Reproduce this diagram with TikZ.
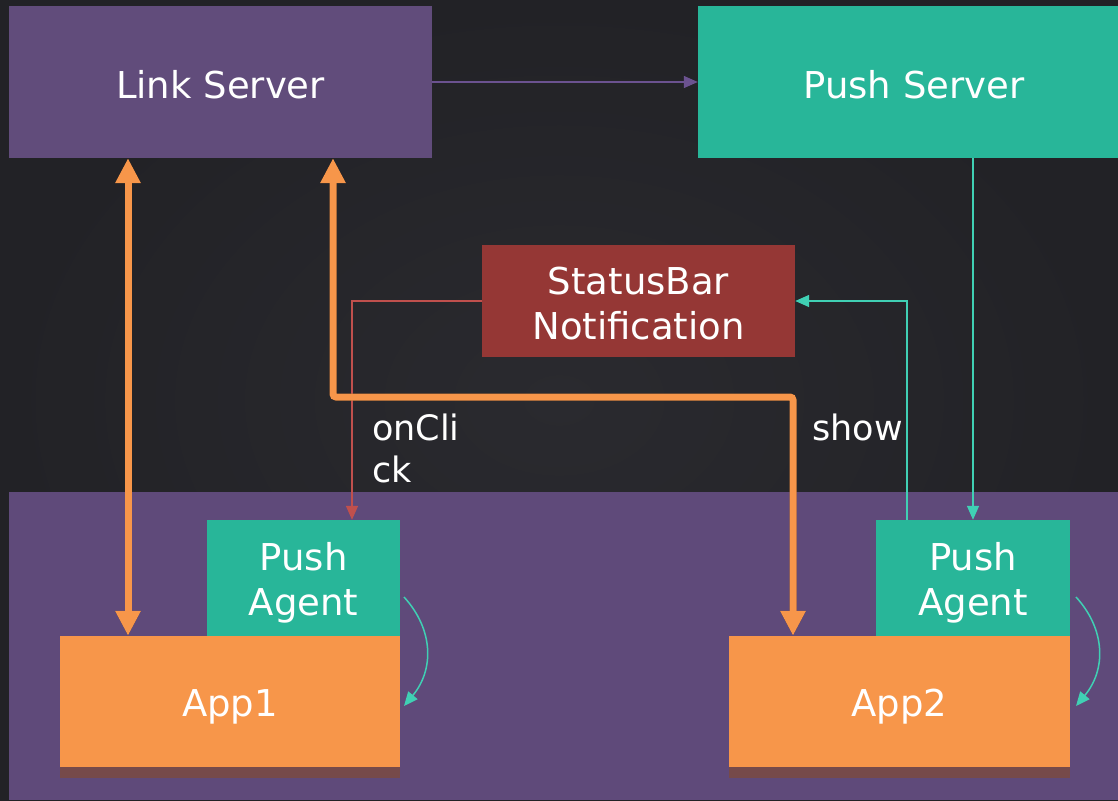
\documentclass[tikz,border=0pt]{standalone}
\usepackage{fontspec}
\setmainfont{DejaVu Sans}
\usetikzlibrary{arrows.meta}
\definecolor{bgc}{HTML}{222226}
\definecolor{bgin}{HTML}{2A2A2F}
\definecolor{purp}{HTML}{614C7B}
\definecolor{panelc}{HTML}{5F4A7A}
\definecolor{tealc}{HTML}{28B699}
\definecolor{tealline}{HTML}{40D0B4}
\definecolor{orangec}{HTML}{F7964A}
\definecolor{redbox}{HTML}{953735}
\definecolor{redline}{HTML}{C0504D}
\definecolor{purpline}{HTML}{6B5290}
\definecolor{shadowc}{HTML}{764A4A}
\begin{document}
\begin{tikzpicture}[x=1pt,y=-1pt,
  boxstyle/.style={draw=none,rectangle,inner sep=0pt},
  txt/.style={text=white,align=center,inner sep=0pt,
    font=\fontsize{37}{45}\selectfont},
  lbl/.style={text=white,inner sep=0pt,align=left,font=\fontsize{35}{42}\selectfont},
  thick arrow/.style={line width=7pt,draw=orangec,rounded corners=3pt,
    {Triangle[width=24pt,length=25pt]}-{Triangle[width=24pt,length=25pt]}},
  thick shadow/.style={line width=7pt,draw=black,opacity=0.45,rounded corners=3pt,
    {Triangle[width=24pt,length=25pt]}-{Triangle[width=24pt,length=25pt]}},
  thin arrow/.style={line width=1.5pt,-{Triangle[width=12pt,length=14pt]}}
]
\useasboundingbox (0,0) rectangle (1118,800);
\fill[bgc] (0,0) rectangle (1118,800);
\shade[inner color=bgin,outer color=bgc] (0,0) rectangle (1118,800);

% panel
\node[boxstyle,fill=panelc,minimum width=1109pt,minimum height=308pt] (panel) at (563.5,646) {};

% top servers
\node[boxstyle,fill=purp,minimum width=423pt,minimum height=152pt] (LS) at (220.5,82) {};
\node[boxstyle,fill=tealc,minimum width=432pt,minimum height=152pt] (PS) at (914,82) {};
\node[txt] (LSt) at ([yshift=-3pt]LS.center) {Link Server};
\node[txt] (PSt) at ([yshift=-3pt]PS.center) {Push Server};

% status bar
\node[boxstyle,fill=redbox,minimum width=313pt,minimum height=112pt] (SB) at (638.5,301) {};
\node[txt] (SBt) at ([yshift=-3pt]SB.center) {StatusBar\\Notification};

% apps with shadows
\fill[shadowc] (60,760) rectangle (400,778);
\fill[shadowc] (729,760) rectangle (1070,778);
\node[boxstyle,fill=orangec,minimum width=340pt,minimum height=131pt] (App1) at (230,701.5) {};
\node[boxstyle,fill=orangec,minimum width=341pt,minimum height=131pt] (App2) at (899.5,701.5) {};
\node[boxstyle,fill=tealc,minimum width=193pt,minimum height=116pt] (PA1) at (303.5,578) {};
\node[boxstyle,fill=tealc,minimum width=194pt,minimum height=116pt] (PA2) at (973,578) {};
\node[txt] (App1t) at ([yshift=-5pt]App1.center) {App1};
\node[txt] (App2t) at ([yshift=-5pt]App2.center) {App2};
\node[txt] (PA1t) at ([yshift=-5pt]PA1.center) {Push\\Agent};
\node[txt] (PA2t) at ([yshift=-5pt]PA2.center) {Push\\Agent};

% coordinates
\coordinate (c1) at (128,0);
\coordinate (c2) at (333,0);
\coordinate (c3) at (793,0);
\coordinate (ymid) at (0,397);
\coordinate (cr) at (352,0);
\coordinate (ct) at (907,0);
\coordinate (cp) at (973,0);

% link -> push
\draw[thin arrow,draw=purpline,line width=1.3pt] (LS.east) -- (PS.west);

% red onClick
\draw[thin arrow,draw=redline] (SB.west) -| (cr |- PA1.north);
% teal push server -> agent
\draw[thin arrow,draw=tealline] (cp |- PS.south) -- (PA2.north);
% teal show
\draw[thin arrow,draw=tealline] (ct |- PA2.north) |- (SB.east);

% orange arrows shadows
\begin{scope}[shift={(2pt,-3pt)}]
\draw[thick shadow] (c1 |- LS.south) -- (c1 |- App1.north);
\draw[thick shadow] (c2 |- LS.south) -- (c2 |- ymid) -- (c3 |- ymid) -- (c3 |- App2.north);
\end{scope}
\draw[thick arrow] (c1 |- LS.south) -- (c1 |- App1.north);
\draw[thick arrow] (c2 |- LS.south) -- (c2 |- ymid) -- (c3 |- ymid) -- (c3 |- App2.north);

% curved arrows
\coordinate (a1s) at (404,597);
\coordinate (a1e) at (404,706);
\coordinate (a2s) at (1076,597);
\coordinate (a2e) at (1076,706);
\draw[thin arrow,draw=tealline] (a1s) .. controls (434,630) and (434,670) .. (a1e);
\draw[thin arrow,draw=tealline] (a2s) .. controls (1106,630) and (1106,670) .. (a2e);

% labels
\node[lbl,anchor=west] (onclick) at (372,448) {onCli\\ck};
\node[lbl] (show) at (857.5,427) {show};
\end{tikzpicture}
\end{document}
